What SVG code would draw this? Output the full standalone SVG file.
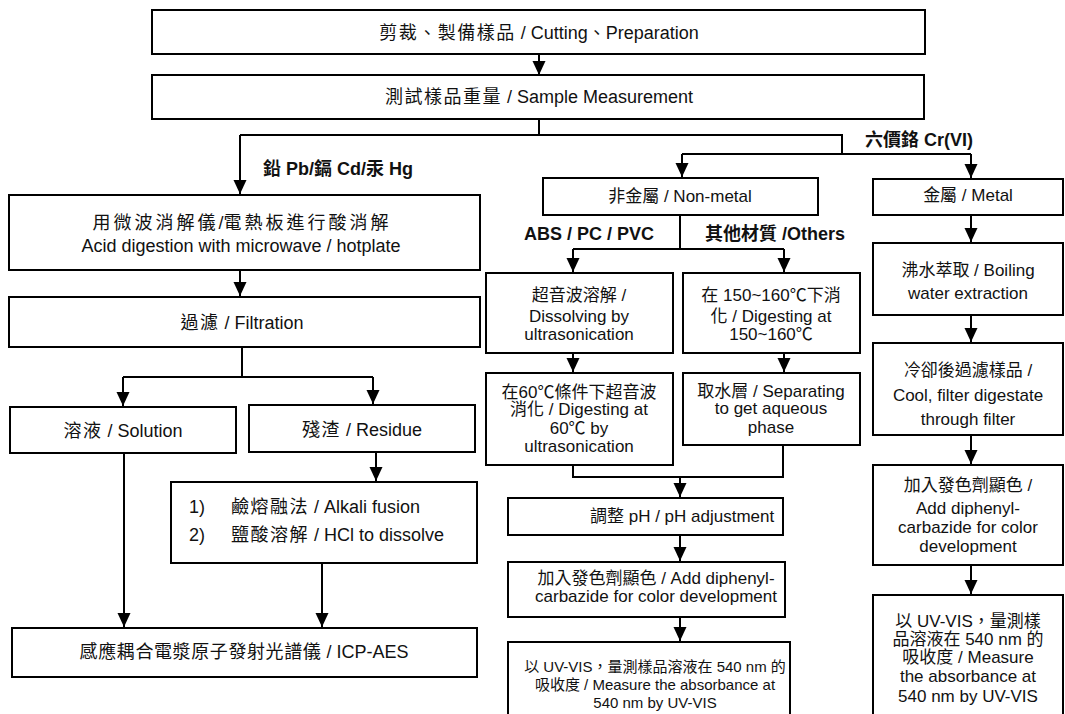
<svg xmlns="http://www.w3.org/2000/svg" width="1065" height="714" viewBox="0 0 1065 714">
<style>
.box{fill:#fff;stroke:#000;stroke-width:2}
.ln{fill:none;stroke:#000;stroke-width:2}
.t{font-family:"Liberation Sans","Noto Sans CJK TC",sans-serif;fill:#111;font-size:17px}
.l{font-size:18px}
.s{font-size:15px}
.m{text-anchor:middle}
.b{font-weight:bold;font-size:18px}
.c1{letter-spacing:1.5px}
.c3{letter-spacing:3px}
.c05{letter-spacing:0.6px}
</style>
<defs>
<marker id="ah" markerUnits="userSpaceOnUse" markerWidth="14" markerHeight="14" viewBox="0 0 14 14" refX="14" refY="7" orient="auto">
<path d="M0,0.5 L14,7 L0,13.5 z" fill="#000"/>
</marker>
</defs>
<rect width="1065" height="714" fill="#fff"/>

<g id="connectors">
<path class="ln" d="M539,54 V75" marker-end="url(#ah)"/>
<path class="ln" d="M539,119 V135"/>
<path class="ln" d="M240,135 H842 V154"/>
<path class="ln" d="M682,154 H971"/>
<path class="ln" d="M240,135 V194" marker-end="url(#ah)"/>
<path class="ln" d="M682,154 V177" marker-end="url(#ah)"/>
<path class="ln" d="M971,154 V178" marker-end="url(#ah)"/>
<path class="ln" d="M240,270 V296" marker-end="url(#ah)"/>
<path class="ln" d="M242,347 V377"/>
<path class="ln" d="M123,377 H373"/>
<path class="ln" d="M123,377 V406" marker-end="url(#ah)"/>
<path class="ln" d="M373,377 V404" marker-end="url(#ah)"/>
<path class="ln" d="M376,452 V481" marker-end="url(#ah)"/>
<path class="ln" d="M124,453 V627" marker-end="url(#ah)"/>
<path class="ln" d="M322,563 V627" marker-end="url(#ah)"/>
<path class="ln" d="M680,215 V249"/>
<path class="ln" d="M573,249 H784"/>
<path class="ln" d="M573,249 V272" marker-end="url(#ah)"/>
<path class="ln" d="M784,249 V272" marker-end="url(#ah)"/>
<path class="ln" d="M573,353 V372" marker-end="url(#ah)"/>
<path class="ln" d="M784,353 V372" marker-end="url(#ah)"/>
<path class="ln" d="M573,465 V477 H783 V445"/>
<path class="ln" d="M680,477 V497" marker-end="url(#ah)"/>
<path class="ln" d="M680,535 V561" marker-end="url(#ah)"/>
<path class="ln" d="M680,617 V641" marker-end="url(#ah)"/>
<path class="ln" d="M971,215 V242" marker-end="url(#ah)"/>
<path class="ln" d="M971,315 V342" marker-end="url(#ah)"/>
<path class="ln" d="M971,435 V464" marker-end="url(#ah)"/>
<path class="ln" d="M971,565 V594" marker-end="url(#ah)"/>
</g>

<g id="labels">
<text class="t b" x="263" y="175">鉛 Pb/鎘 Cd/汞 Hg</text>
<text class="t b" x="865" y="146">六價鉻 Cr(VI)</text>
<text class="t b" x="524" y="240">ABS / PC / PVC</text>
<text class="t b" x="705" y="240">其他材質 /Others</text>
</g>

<g id="n1"><rect class="box" x="152" y="10" width="773" height="44"/>
<text class="t l m" x="539" y="39"><tspan class="c1">剪裁、製備樣品</tspan> / Cutting、Preparation</text></g>
<g id="n2"><rect class="box" x="152" y="75" width="772" height="44"/>
<text class="t l m" x="539" y="103"><tspan class="c1">測試樣品重量</tspan> / Sample Measurement</text></g>

<g id="nA"><rect class="box" x="9" y="195" width="471" height="75"/>
<text class="t l m" x="242" y="229"><tspan class="c3">用微波消解儀</tspan>/<tspan class="c3">電熱板進行酸消解</tspan></text>
<text class="t l m" x="241" y="252">Acid digestion with microwave / hotplate</text></g>
<g id="nB"><rect class="box" x="9" y="297" width="471" height="50"/>
<text class="t l m" x="242" y="329"><tspan class="c1">過濾</tspan> / Filtration</text></g>
<g id="nC"><rect class="box" x="10" y="407" width="226" height="46"/>
<text class="t l m" x="123" y="437"><tspan class="c1">溶液</tspan> / Solution</text></g>
<g id="nD"><rect class="box" x="249" y="405" width="226" height="47"/>
<text class="t l m" x="362" y="436"><tspan class="c1">殘渣</tspan> / Residue</text></g>
<g id="nE"><rect class="box" x="171" y="482" width="306" height="81"/>
<text class="t l" x="189" y="513">1)</text>
<text class="t l" x="231" y="513"><tspan class="c1">鹼熔融法</tspan> / Alkali fusion</text>
<text class="t l" x="189" y="541">2)</text>
<text class="t l" x="231" y="541"><tspan class="c1">鹽酸溶解</tspan> / HCl to dissolve</text></g>
<g id="nF"><rect class="box" x="12" y="628" width="465" height="49"/>
<text class="t l m" x="244" y="658"><tspan class="c05">感應耦合電漿原子發射光譜儀</tspan> / ICP-AES</text></g>

<g id="nNM"><rect class="box" x="543" y="178" width="275" height="37"/>
<text class="t m" x="680" y="202">非金屬 / Non-metal</text></g>
<g id="nG"><rect class="box" x="486" y="273" width="187" height="80"/>
<text class="t m" x="579" y="301">超音波溶解 /</text>
<text class="t m" x="579" y="322">Dissolving by</text>
<text class="t m" x="579" y="340">ultrasonication</text></g>
<g id="nH"><rect class="box" x="683" y="273" width="177" height="80"/>
<text class="t m" x="771" y="301">在 150~160℃下消</text>
<text class="t m" x="771" y="322">化 / Digesting at</text>
<text class="t m" x="771" y="340">150~160℃</text></g>
<g id="nI"><rect class="box" x="486" y="373" width="187" height="92"/>
<text class="t m" x="579" y="398">在60℃條件下超音波</text>
<text class="t m" x="579" y="415">消化 / Digesting at</text>
<text class="t m" x="579" y="434">60℃ by</text>
<text class="t m" x="579" y="452">ultrasonication</text></g>
<g id="nJ"><rect class="box" x="683" y="373" width="177" height="72"/>
<text class="t m" x="771" y="397">取水層 / Separating</text>
<text class="t m" x="771" y="414">to get aqueous</text>
<text class="t m" x="771" y="433">phase</text></g>
<g id="nK"><rect class="box" x="508" y="498" width="275" height="37"/>
<text class="t" x="590" y="522">調整 pH / pH adjustment</text></g>
<g id="nL"><rect class="box" x="508" y="562" width="277" height="55"/>
<text class="t m" x="656" y="584">加入發色劑顯色 / Add diphenyl-</text>
<text class="t m" x="656" y="602">carbazide for color development</text></g>
<g id="nM"><rect class="box" x="508" y="642" width="282" height="76"/>
<text class="t s m" x="655" y="672">以 UV-VIS，量測樣品溶液在 540 nm 的</text>
<text class="t s m" x="655" y="690">吸收度 / Measure the absorbance at</text>
<text class="t s m" x="655" y="708">540 nm by UV-VIS</text></g>

<g id="nMetal"><rect class="box" x="873" y="179" width="190" height="36"/>
<text class="t m" x="968" y="201">金屬 / Metal</text></g>
<g id="nBoil"><rect class="box" x="873" y="243" width="190" height="72"/>
<text class="t m" x="968" y="276">沸水萃取 / Boiling</text>
<text class="t m" x="968" y="299">water extraction</text></g>
<g id="nCool"><rect class="box" x="873" y="343" width="190" height="92"/>
<text class="t m" x="968" y="376">冷卻後過濾樣品 /</text>
<text class="t m" x="968" y="401">Cool, filter digestate</text>
<text class="t m" x="968" y="425">through filter</text></g>
<g id="nAdd"><rect class="box" x="873" y="465" width="190" height="100"/>
<text class="t m" x="968" y="491">加入發色劑顯色 /</text>
<text class="t m" x="968" y="514">Add diphenyl-</text>
<text class="t m" x="968" y="533">carbazide for color</text>
<text class="t m" x="968" y="552">development</text></g>
<g id="nUV"><rect class="box" x="873" y="595" width="190" height="123"/>
<text class="t m" x="968" y="627">以 UV-VIS，量測樣</text>
<text class="t m" x="968" y="645">品溶液在 540 nm 的</text>
<text class="t m" x="968" y="663">吸收度 / Measure</text>
<text class="t m" x="968" y="682">the absorbance at</text>
<text class="t m" x="968" y="702">540 nm by UV-VIS</text></g>
</svg>
